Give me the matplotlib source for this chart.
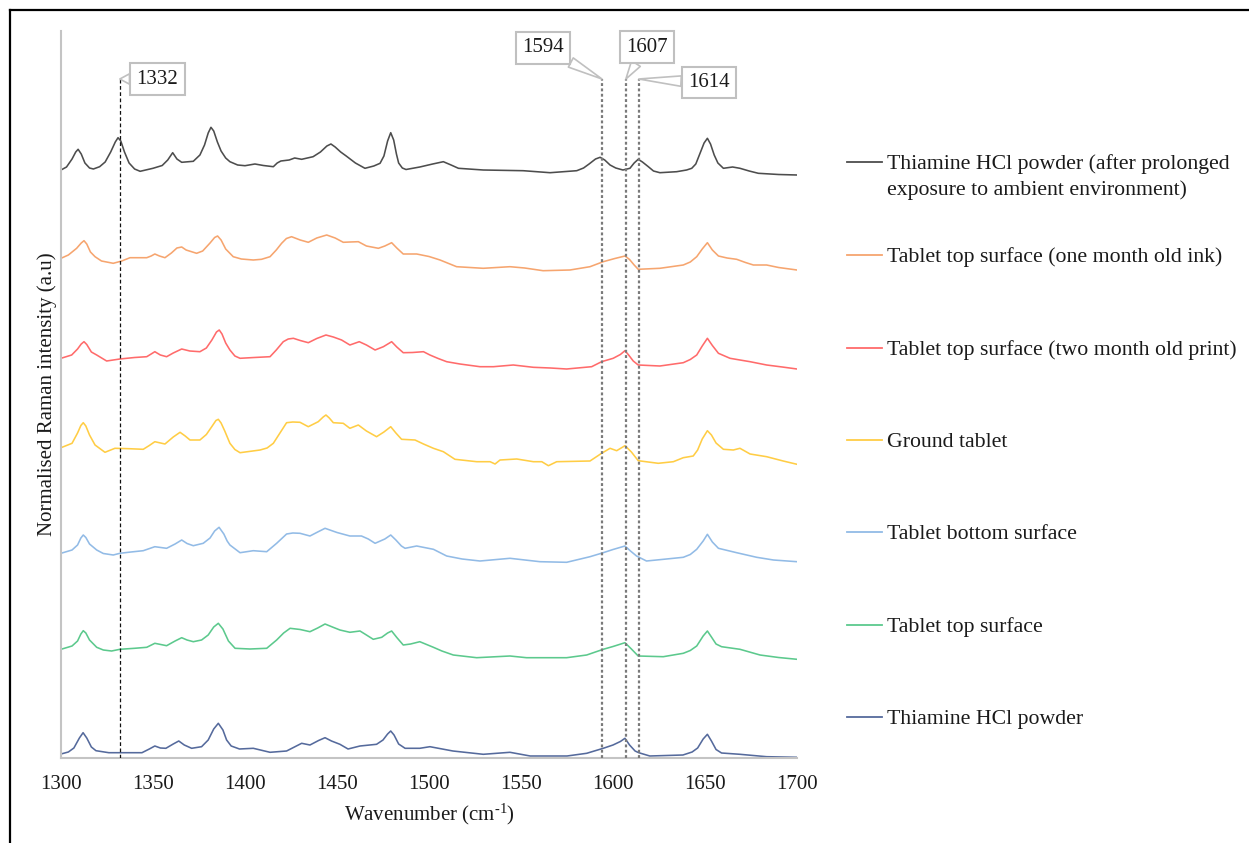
import numpy as np
import matplotlib
matplotlib.use("Agg")
import matplotlib.pyplot as plt
from matplotlib.lines import Line2D

plt.rcParams['font.family'] = ['Liberation Serif', 'DejaVu Serif']
plt.rcParams['mathtext.fontset'] = 'custom'
plt.rcParams['mathtext.rm'] = 'Liberation Serif'
plt.rcParams['mathtext.it'] = 'Liberation Serif:italic'

# ---------------- data ----------------
labels = [
    "Thiamine HCl powder (after prolonged\nexposure to ambient environment)",
    "Tablet top surface (one month old ink)",
    "Tablet top surface (two month old print)",
    "Ground tablet",
    "Tablet bottom surface",
    "Tablet top surface",
    "Thiamine HCl powder",
]
colors = ["#4d4d4d", "#f6a56f", "#ff6b6b", "#ffcd45", "#92bbe6", "#5cc98d", "#556a9c"]
offsets = [580, 490, 390, 300, 200, 100, 0]

wn_aged = [1300, 1303, 1306, 1308, 1309.3, 1311, 1313, 1315.5, 1317.6, 1321, 1324, 1327, 1329.5, 1331,
           1332.5, 1334.5, 1337, 1340, 1343, 1350, 1355, 1358, 1360.7, 1363, 1365.6, 1371.9, 1375.5,
           1378, 1380, 1381.5, 1383, 1385, 1387, 1389.5, 1391.8, 1396, 1400, 1405.4, 1410, 1415.4,
           1417.5, 1419.5, 1424, 1427, 1430.8, 1437, 1441, 1444.5, 1446.7, 1449, 1452, 1455, 1460,
           1465.2, 1470, 1473.4, 1475.5, 1477.5, 1479.2, 1480.8, 1482.3, 1483.5, 1485.5, 1487.5, 1495,
           1502, 1507.8, 1512, 1516, 1529.5, 1551.2, 1565.8, 1580.3, 1584, 1587, 1590.5, 1593, 1595.5,
           1598.4, 1601.5, 1605.4, 1609.2, 1611.5, 1613.7, 1616, 1619.2, 1622, 1625.5, 1634.6, 1640,
           1642.8, 1645, 1647.3, 1649.5, 1651.3, 1653, 1655, 1657, 1660, 1665, 1669, 1674, 1679, 1690,
           1700]
int_aged = [8, 11, 19, 26, 28.7, 24, 15, 10, 9, 11.3, 16, 26, 36, 40.3,
            37, 26, 15, 9, 6.7, 9.7, 12.5, 18, 25.3, 19, 15.7, 16.7, 23,
            33, 45, 50.7, 47, 36, 27, 20, 16.3, 13, 12.3, 14, 12.5, 11.3,
            15, 17, 18, 20, 18.7, 21.3, 26, 32, 34, 31, 26, 22, 15,
            9.7, 12, 14.7, 22, 37, 45.3, 38, 24, 15, 10, 8.5, 11,
            14, 16.3, 13, 9.7, 8, 7.3, 5.3, 7.3, 10, 14, 19, 20.7, 18,
            13, 10, 8, 9.7, 15, 18.7, 16, 11.3, 7, 5.3, 6.3, 8,
            9.7, 14, 24.7, 35, 39.7, 34, 23, 15, 9.7, 11, 9.7, 7, 4.7, 3.5,
            3]

wn_one_month = [1300, 1304, 1308.5, 1311, 1312.5, 1314, 1316, 1318.5, 1322, 1328.4, 1333, 1337.5, 1346.6,
                1349, 1351, 1353.5, 1356.5, 1360, 1363, 1365.6, 1368, 1373.7, 1377, 1381, 1383.5, 1385.1,
                1387, 1389.5, 1393.6, 1398, 1404.5, 1409, 1413.6, 1417, 1419.9, 1422.5, 1425.3, 1430,
                1434.4, 1439, 1444.4, 1449, 1453.4, 1457, 1461.6, 1466, 1472.5, 1476, 1479.7, 1482.5,
                1486, 1493.3, 1500, 1506, 1515, 1529.5, 1544, 1552, 1562, 1576.6, 1587.5, 1594.7, 1601,
                1606.5, 1609, 1611.5, 1613.7, 1625.5, 1638.2, 1642, 1645.5, 1648.5, 1651.3, 1654, 1657.3,
                1662, 1667.2, 1672, 1676.3, 1683.5, 1690, 1700]
int_one_month = [9.7, 13, 19.7, 25, 27.3, 24, 16, 11.3, 7, 4.7, 7, 10.3, 10.3,
                 12, 14, 12, 10.3, 15, 20, 21, 18, 14.7, 17, 25, 30.5, 32,
                 28, 19, 11.3, 9, 8, 8.7, 11.3, 18, 24.7, 29.5, 31.3, 28,
                 25.7, 30, 33, 30, 25.7, 26, 26.3, 22, 19.7, 22, 25.3, 20,
                 14, 14, 11.5, 8, 1.3, -0.3, 1.3, 0, -2.7, -2, 1.3, 6.3, 9.5,
                 12, 8.5, 3, -1.3, -0.3, 3, 6, 11.3, 19, 25.3, 18, 12,
                 10, 8.7, 5.5, 3, 3, 0.5, -2]

wn_two_month = [1300, 1305.8, 1309, 1311, 1312.5, 1314, 1316.5, 1319.4, 1324.8, 1332, 1340, 1346.6, 1349,
                1351, 1354, 1357.4, 1361, 1365.6, 1370, 1375.5, 1379, 1382, 1384.5, 1386, 1387.5, 1389.5,
                1391.8, 1394.5, 1397.3, 1405, 1413.6, 1417, 1420.8, 1423.5, 1426.3, 1430, 1434.4, 1439,
                1444, 1448, 1452.5, 1457, 1462.1, 1466, 1470.7, 1475.2, 1479.7, 1482.5, 1486, 1491, 1497,
                1500.5, 1505, 1509.6, 1516.8, 1527.7, 1535, 1545.8, 1556.7, 1566, 1574.8, 1588.4, 1593.8,
                1600.1, 1604, 1606.5, 1608.5, 1611, 1613.7, 1625.5, 1638.2, 1642, 1645.5, 1648.5, 1651.3,
                1654, 1657.3, 1663.6, 1669, 1674.5, 1683.5, 1692, 1700]
int_two_month = [9.7, 13, 19, 24, 26.3, 23.5, 16, 13, 7, 9, 10.5, 11.3, 14,
                 16.3, 13, 11.3, 15, 19, 17, 16.3, 20, 28, 36, 38, 34, 25,
                 18, 12, 9.7, 10.5, 11.3, 18, 26.3, 29, 29.7, 27.5, 25.3, 29.5,
                 33, 31, 28, 23, 26.3, 23, 18, 21.3, 26.3, 21, 15.3, 15.5, 16.3,
                 13, 9.5, 6.3, 4, 1.3, 1.3, 3, 0.7, 0, -1, 1.3, 6.3,
                 9.7, 13.5, 17.3, 13, 7, 3, 2, 5.3, 8.5, 13, 22, 29.7,
                 22.5, 14.7, 9.7, 8, 6.3, 3, 1, -1]

wn_ground = [1300, 1306, 1309, 1310.8, 1312.1, 1313.5, 1315.5, 1318.5, 1323.9, 1329.3, 1337, 1344.7, 1348,
             1351, 1356.5, 1361, 1364.7, 1367.5, 1370.1, 1375.5, 1379, 1382, 1384.2, 1385.5, 1387, 1389,
             1391.8, 1394.5, 1397.3, 1408.2, 1412, 1415.4, 1419, 1422.6, 1426, 1429.9, 1434.4, 1439.8,
             1442.5, 1444, 1445.8, 1448, 1453.4, 1457, 1461.6, 1466, 1471.5, 1475.5, 1479.2, 1482,
             1485.1, 1492.4, 1497, 1502.4, 1507.8, 1514.1, 1525.9, 1533.2, 1535.9, 1538.6, 1547.7,
             1556.7, 1561.3, 1564.9, 1569.4, 1587.5, 1593.8, 1598.4, 1602, 1606.5, 1610, 1613.7, 1624.6,
             1632.8, 1638.2, 1643.6, 1646, 1648.5, 1651.3, 1653.5, 1656, 1660, 1665.4, 1669, 1674.5,
             1683.5, 1692.5, 1700]
int_ground = [10.3, 14.7, 25, 32.5, 35.3, 32, 23, 13, 5.7, 9.7, 9.3, 8.7, 12.5,
              16.3, 14, 21, 25.7, 22, 18, 18, 23.5, 31.5, 37.5, 38.7, 35, 27,
              14.7, 8.5, 5.3, 8, 10, 14.7, 25, 35.3, 36, 35.7, 31.3, 36.3,
              41, 43, 40, 35.3, 34.7, 29.7, 33, 27, 21.3, 26, 31.3, 25,
              18.7, 18, 14, 9.7, 6.3, -1.3, -3.7, -3.7, -6, -2, -1,
              -3.7, -3.7, -7.7, -3.7, -3, 4.7, 9.7, 7.3, 12.3, 6, -2.7, -5.3,
              -3.7, 0.3, 2, 8, 19, 27.3, 23, 15, 8.7, 8, 9.7, 4,
              1.3, -3, -6.3]

wn_bottom = [1300, 1306, 1309, 1310.8, 1312.1, 1313.5, 1315.5, 1319.4, 1323, 1328.4, 1332, 1338, 1344.7,
             1351, 1357.4, 1362, 1365.6, 1368.5, 1371.9, 1377.3, 1381, 1383.5, 1385.9, 1388.5, 1390.3,
             1391.8, 1397.3, 1404.5, 1411.8, 1417.2, 1422.6, 1426, 1429.9, 1435.3, 1439.5, 1443.5, 1450,
             1457, 1463.3, 1467, 1470.7, 1476, 1479.2, 1482, 1485, 1487, 1493.3, 1502.4, 1509.6, 1518,
             1527.7, 1544, 1560.3, 1574.8, 1587.5, 1594.7, 1600, 1606.5, 1609.5, 1612.8, 1618.2, 1629.1,
             1638.2, 1642, 1645.5, 1649, 1651.3, 1654, 1657.3, 1667.2, 1678.1, 1687.2, 1700]
int_bottom = [4.7, 8, 13, 20, 23, 20.5, 14, 8, 4.5, 3, 4.7, 6, 7.3,
              11.3, 9.7, 14, 18, 14.5, 12.3, 14.7, 20, 27, 30.7, 24, 17,
              13, 5.3, 7.3, 6.3, 14.7, 24, 25, 24.7, 22, 26, 29.7, 25.5,
              22, 22, 19, 14.7, 19, 23, 18, 12, 9.7, 12, 8.7, 2, -1,
              -3, -0.3, -3.7, -4.3, 1.3, 5.3, 8.5, 12, 7, 2, -3, -1,
              0.7, 3.5, 8.7, 17, 23.7, 16, 9.7, 5.3, 0.7, -2, -3.7]

wn_top = [1300, 1306, 1309, 1310.8, 1312.1, 1313.5, 1315.5, 1319.4, 1323, 1327.5, 1332, 1340, 1346.6,
          1351, 1357.4, 1362, 1365.6, 1368.5, 1371.9, 1376.4, 1380, 1383, 1385.5, 1388, 1391, 1394.6,
          1402.7, 1411.8, 1417.2, 1421, 1424.5, 1430, 1435.3, 1439.5, 1443.5, 1447.5, 1451.6, 1457,
          1462.5, 1466, 1469.7, 1474.3, 1477.5, 1479.7, 1482.5, 1486, 1490, 1495, 1502.4, 1507, 1513.2,
          1525.9, 1544, 1553, 1574.8, 1585.7, 1594.7, 1600, 1606.5, 1610, 1613.7, 1627.3, 1638.2, 1642,
          1645.5, 1649, 1651.3, 1653.5, 1656, 1659, 1669, 1679.9, 1690, 1700]
int_top = [8.7, 12, 17, 24, 27.3, 25, 18, 10.7, 8, 7, 8.7, 9.7, 10.7,
           14.7, 12.3, 17, 20.3, 18, 16.3, 18, 23, 31, 34.7, 29, 17, 9.7,
           9, 9.7, 18, 25, 29.7, 28.5, 26.3, 30, 34, 31, 28, 25.7,
           27, 23, 18.7, 20.7, 25, 27, 20.5, 13, 14, 16.3, 10.7, 7, 3,
           0.3, 2, 0.3, 0.3, 3, 8.7, 11.5, 15.3, 9, 2, 1.3, 4.7, 7.5,
           12, 22, 27, 21, 14, 11.3, 8.7, 3, 0.5, -1.3]

wn_powder = [1300, 1304, 1307, 1310, 1312, 1314, 1316.5, 1319, 1326, 1336, 1344, 1348, 1351, 1354, 1357,
             1361, 1364, 1367, 1371, 1376.4, 1380, 1383, 1385.5, 1388, 1390, 1392.5, 1397, 1404.5,
             1413.6, 1422.6, 1430.8, 1435.3, 1440, 1443.5, 1447, 1451.6, 1456, 1462.5, 1471.5, 1475,
             1477.5, 1479.2, 1481, 1483.5, 1487, 1495, 1500.5, 1513, 1529.5, 1544, 1555, 1575, 1585.7,
             1594.7, 1600, 1604, 1606.5, 1609, 1612, 1614, 1620, 1638, 1643, 1646, 1649, 1651.3,
             1653.5, 1656, 1659, 1669, 1683.5, 1700]
int_powder = [4, 6, 10, 20, 25.3, 20, 11, 7.3, 5.3, 5.3, 5.3, 9, 12, 10, 9.7,
              14, 17, 13, 9.7, 11.3, 18, 29, 34.7, 28, 18, 12, 9, 9.7,
              5.7, 7, 14.7, 13, 17.5, 20.3, 17, 13.7, 9, 12, 13.7, 18,
              24, 27, 23, 14, 9.7, 9.7, 11.3, 7, 3.7, 5.7, 2, 2, 4.7,
              9.7, 13, 16.5, 19.7, 13, 7, 5.3, 2, 3, 6, 10, 19, 23.7,
              17, 8.5, 5, 3.7, 1.3, 0.7]

series_wn = [wn_aged, wn_one_month, wn_two_month, wn_ground, wn_bottom, wn_top, wn_powder]
series_int = [int_aged, int_one_month, int_two_month, int_ground, int_bottom, int_top, int_powder]

xticks = [1300, 1350, 1400, 1450, 1500, 1550, 1600, 1650, 1700]
marker_wn = [1332, 1594, 1607, 1614]
marker_labels = ["1332", "1594", "1607", "1614"]

# ---------------- figure ----------------
W, H = 1249, 843
fig = plt.figure(figsize=(W / 100, H / 100), dpi=100)


def fx(x):
    return x / W


def fy(y):
    return 1 - y / H


ax = fig.add_axes([fx(61), fy(758), (797 - 61) / W, (758 - 31) / H])
ax.set_xlim(1300, 1700)
ax.set_ylim(0, 727)

for wn, vals, off, col in zip(series_wn, series_int, offsets, colors):
    ax.plot(wn, np.asarray(vals) + off, color=col, lw=1.15, solid_joinstyle='round', zorder=2)

for s in ['top', 'right']:
    ax.spines[s].set_visible(False)
for s in ['left', 'bottom']:
    ax.spines[s].set_color('#c4c4c4')
    ax.spines[s].set_linewidth(1.5)
ax.set_yticks([])
ax.set_xticks(xticks)
ax.tick_params(axis='x', length=0, pad=12, labelsize=15, colors='#1a1a1a')
ax.set_xlabel(r'Wavenumber (cm$^{\text{-}1}$)', fontsize=15, labelpad=6, color='#1a1a1a')
ax.set_ylabel('Normalised Raman intensity (a.u)', fontsize=15, labelpad=3, color='#1a1a1a')

# marker lines
line_top = 679
ax.vlines(marker_wn[0], 0, line_top, colors='#111111', linestyles=(0, (3, 2)), lw=0.9, zorder=3)
for w in marker_wn[1:]:
    ax.vlines(w, 0, line_top, colors='#7a7a7a', linestyles=(0, (1.3, 1.1)), lw=1.6, zorder=3)

# callouts
offs = [(27, 0), (-42.5, 22.5), (15, 23), (50.5, -2.5)]
for w, lab, (dx, dy) in zip(marker_wn, marker_labels, offs):
    ax.annotate(lab, xy=(w, line_top), xytext=(dx, dy), textcoords='offset points',
                ha='center', va='center', fontsize=15, color='#1a1a1a',
                bbox=dict(boxstyle='square,pad=0.3', fc='white', ec='#c0c0c0', lw=1.5),
                arrowprops=dict(arrowstyle='wedge,tail_width=0.5,shrink_factor=0.5',
                                fc='white', ec='#c0c0c0', lw=1.2, shrinkA=0, shrinkB=0),
                zorder=5)

# legend (drawn manually, figure pixel layout)
leg_y = [162, 255, 348, 440, 532, 625, 717]
for lab, col, y in zip(labels, colors, leg_y):
    fig.add_artist(Line2D([fx(847), fx(882)], [fy(y), fy(y)], color=col, lw=1.3,
                          transform=fig.transFigure))
    for k, part in enumerate(lab.split('\n')):
        fig.text(fx(887), fy(y + 7.3 + 26 * k), part, fontsize=15.7, ha='left', va='baseline',
                 color='#1a1a1a')

# outer frame (left and top edges visible in the reference)
fig.add_artist(Line2D([fx(10), fx(10)], [0, fy(10)], color='black', lw=1.6, transform=fig.transFigure))
fig.add_artist(Line2D([fx(10), 1], [fy(10), fy(10)], color='black', lw=1.6, transform=fig.transFigure))

fig.savefig('out.png', dpi=100, facecolor='white')
